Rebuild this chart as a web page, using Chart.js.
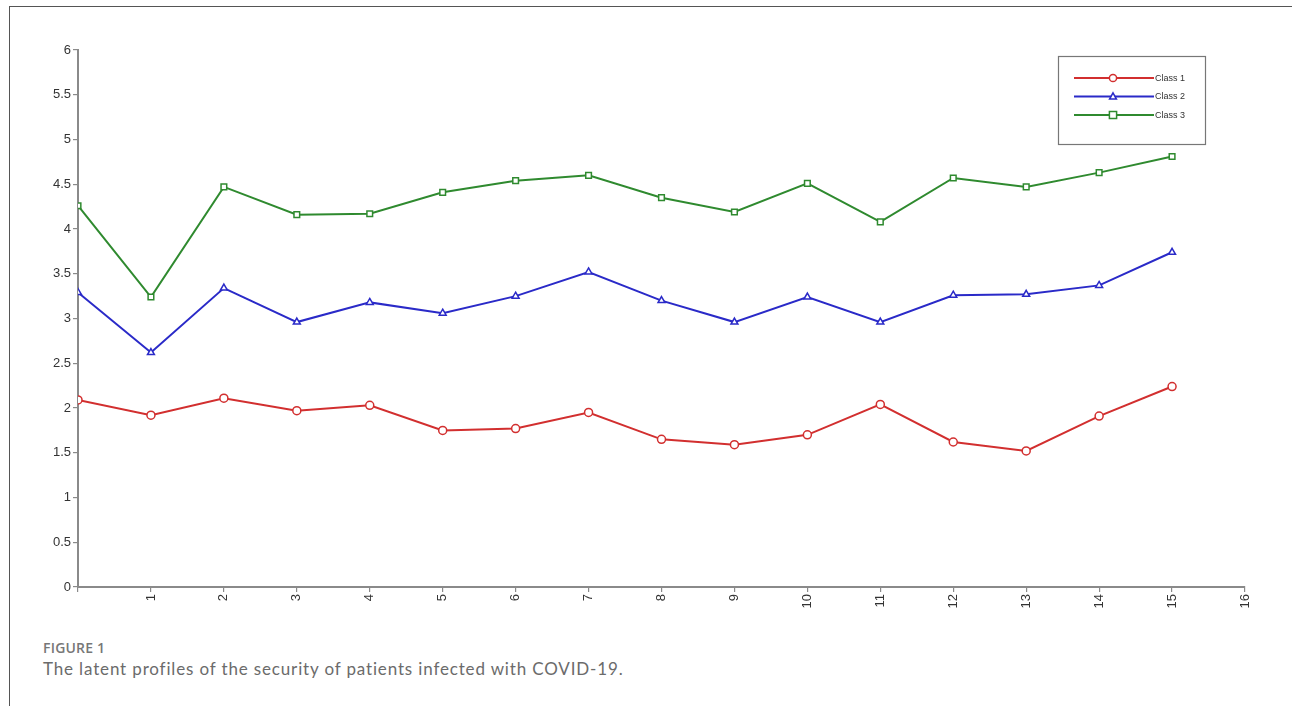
<!DOCTYPE html>
<html>
<head>
<meta charset="utf-8">
<script src="https://cdn.jsdelivr.net/npm/chart.js@4.4.0/dist/chart.umd.min.js"></script>
<style>
  html, body { margin: 0; padding: 0; background: #fff; }
  body { width: 1292px; height: 706px; position: relative; overflow: hidden; }
  .frame { position: absolute; left: 9px; top: 6px; right: -4px; bottom: -4px;
           border-top: 1.5px solid #555; border-left: 1.5px solid #555; }
  .chart-wrap { position: absolute; left: 0; top: 0; width: 1292px; height: 630px; }
  .fig-label { position: absolute; left: 43px; top: 638px; font-family: "Open Sans", sans-serif;
               font-weight: 600; font-size: 14px; color: #777; letter-spacing: 0.2px; white-space: nowrap; }
  .fig-caption { position: absolute; left: 43px; top: 658px; font-family: Lato, sans-serif;
                 font-size: 17px; color: #6b6b6b; letter-spacing: 0.85px; white-space: nowrap; }
</style>
</head>
<body>
<div class="frame"></div>
<div class="chart-wrap"><canvas id="chart" width="1292" height="630"></canvas></div>
<div class="fig-label">FIGURE 1</div>
<div class="fig-caption">The latent profiles of the security of patients infected with COVID-19.</div>
<script>
// item index (x) and mean scores per latent class
const items = [0, 1, 2, 3, 4, 5, 6, 7, 8, 9, 10, 11, 12, 13, 14, 15];
const class1 = [2.09, 1.92, 2.11, 1.97, 2.03, 1.75, 1.77, 1.95, 1.65, 1.59, 1.70, 2.04, 1.62, 1.52, 1.91, 2.24];
const class2 = [3.29, 2.62, 3.34, 2.96, 3.18, 3.06, 3.25, 3.52, 3.20, 2.96, 3.24, 2.96, 3.26, 3.27, 3.37, 3.74];
const class3 = [4.26, 3.24, 4.47, 4.16, 4.17, 4.41, 4.54, 4.60, 4.35, 4.19, 4.51, 4.08, 4.57, 4.47, 4.63, 4.81];
const seriesNames = ['Class 1', 'Class 2', 'Class 3'];
const xMin = 0, xMax = 16;
const yMin = 0, yMax = 6, yStep = 0.5;

const colors = ['#d22f2f', '#2a2ac8', '#2f8a2f'];
const markers = ['circle', 'triangle', 'rect'];
const tickFont = {family: '"Liberation Sans", Arial, sans-serif', size: 13};

function toPoints(vals) {
    return vals.map((v, i) => ({x: items[i], y: v}));
}

function drawMarker(ctx, style, x, y, r) {
    ctx.beginPath();
    if (style === 'circle') {
        ctx.arc(x, y, r, 0, Math.PI * 2);
    } else if (style === 'triangle') {
        ctx.moveTo(x, y - r);
        ctx.lineTo(x + r * 0.95, y + r * 0.7);
        ctx.lineTo(x - r * 0.95, y + r * 0.7);
        ctx.closePath();
    } else {
        ctx.rect(x - r, y - r, r * 2, r * 2);
    }
    ctx.fill();
    ctx.stroke();
}

// boxed legend in the top right corner
const boxLegend = {
    id: 'boxLegend',
    afterDraw(chart) {
        const ctx = chart.ctx;
        const bx = 1058, by = 56, bw = 147, bh = 88;
        ctx.save();
        ctx.strokeStyle = '#777';
        ctx.lineWidth = 1.2;
        ctx.strokeRect(bx + 0.5, by + 0.5, bw, bh);
        chart.data.datasets.forEach((ds, i) => {
            const y = by + 22 + i * 18.5;
            ctx.strokeStyle = ds.borderColor;
            ctx.lineWidth = 1.8;
            ctx.beginPath();
            ctx.moveTo(bx + 16, y);
            ctx.lineTo(bx + 96, y);
            ctx.stroke();
            ctx.fillStyle = '#fff';
            ctx.lineWidth = 1.5;
            drawMarker(ctx, ds.pointStyle, bx + 55, y, 3.6);
            ctx.fillStyle = '#333';
            ctx.font = '9px "Liberation Sans", Arial, sans-serif';
            ctx.textBaseline = 'middle';
            ctx.textAlign = 'left';
            ctx.fillText(ds.label, bx + 97, y + 0.5);
        });
        ctx.restore();
    }
};

const ctx = document.getElementById('chart').getContext('2d');
const datasets = [class1, class2, class3].map((vals, i) => ({
    label: seriesNames[i],
    data: toPoints(vals),
    borderColor: colors[i],
    backgroundColor: '#fff',
    borderWidth: 2,
    pointStyle: markers[i],
    pointRadius: 4,
    pointBorderWidth: 1.5,
    pointBackgroundColor: '#fff',
    pointBorderColor: colors[i],
    tension: 0
}));

new Chart(ctx, {
    type: 'line',
    data: {datasets: datasets},
    options: {
        responsive: false,
        animation: false,
        layout: {padding: {left: 0, right: 47, top: 50, bottom: 0}},
        plugins: {legend: {display: false}, tooltip: {enabled: false}},
        scales: {
            x: {
                type: 'linear',
                min: xMin,
                max: xMax,
                grid: {drawOnChartArea: false, color: '#8a8a8a', tickLength: 5, lineWidth: 1.2},
                border: {color: '#8a8a8a', width: 2},
                ticks: {
                    stepSize: 1,
                    minRotation: 90,
                    maxRotation: 90,
                    padding: 2,
                    color: '#333',
                    font: tickFont,
                    callback: (v) => v === 0 ? '' : String(v)
                },
                afterFit: (scale) => { scale.height = 43; }
            },
            y: {
                min: yMin,
                max: yMax,
                grid: {drawOnChartArea: false, color: '#8a8a8a', tickLength: 5, lineWidth: 1.2},
                border: {color: '#8a8a8a', width: 2},
                ticks: {
                    stepSize: yStep,
                    padding: 2,
                    color: '#333',
                    font: tickFont,
                    callback: (v) => String(v)
                },
                afterFit: (scale) => { scale.width = 78; }
            }
        }
    },
    plugins: [boxLegend]
});
</script>
</body>
</html>
